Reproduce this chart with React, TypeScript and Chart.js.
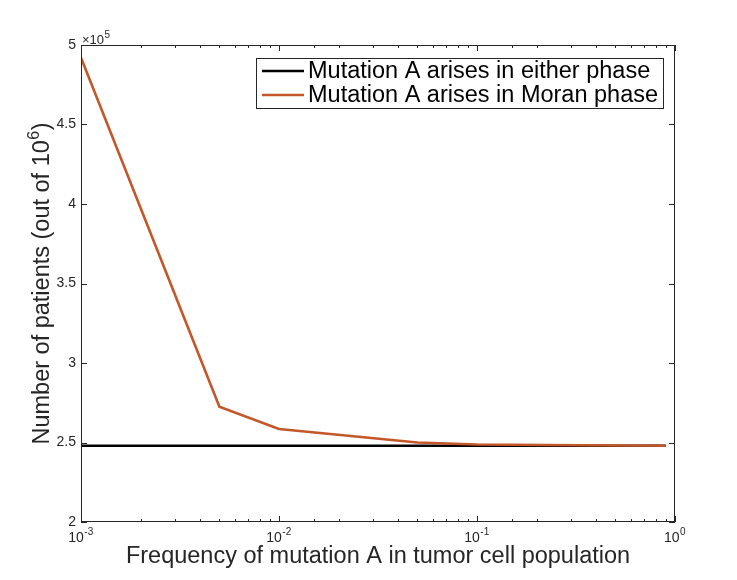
import React, { useEffect, useRef } from "react";
import { Chart, registerables } from "chart.js";

Chart.register(...registerables);

// ---- data ----
const frequencies = [0.001, 0.005, 0.01, 0.05, 0.1, 0.5, 0.9];
const eitherPhase = [2.48e5, 2.48e5, 2.48e5, 2.48e5, 2.48e5, 2.48e5, 2.48e5];
const moranPhase = [4.92e5, 2.725e5, 2.585e5, 2.5e5, 2.487e5, 2.481e5, 2.48e5];
const seriesLabels = ["Mutation A arises in either phase", "Mutation A arises in Moran phase"];
const seriesColors = ["#000000", "#C3572A"];
const yTickValues = [2e5, 2.5e5, 3e5, 3.5e5, 4e5, 4.5e5, 5e5];
const xTitle = "Frequency of mutation A in tumor cell population";
const yTitleBase = "Number of patients (out of 10";
const yTitleExp = "6";
const yTitleEnd = ")";

const FONT = "'Liberation Sans', Arial, Helvetica, sans-serif";
const AXIS = "#262626";

function drawSup(
  ctx: CanvasRenderingContext2D,
  base: string,
  exp: string,
  x: number,
  y: number,
  baseSize: number,
  expSize: number,
  raise: number,
  align: "left" | "center",
  tail = ""
) {
  ctx.font = `${baseSize}px ${FONT}`;
  const wb = ctx.measureText(base).width;
  const wt = tail ? ctx.measureText(tail).width : 0;
  ctx.font = `${expSize}px ${FONT}`;
  const we = ctx.measureText(exp).width + 1;
  const total = wb + we + wt;
  let sx = align === "center" ? x - total / 2 : x;
  ctx.textAlign = "left";
  ctx.textBaseline = "alphabetic";
  ctx.font = `${baseSize}px ${FONT}`;
  ctx.fillText(base, sx, y);
  ctx.font = `${expSize}px ${FONT}`;
  ctx.fillText(exp, sx + wb + 0.5, y - raise);
  if (tail) {
    ctx.font = `${baseSize}px ${FONT}`;
    ctx.fillText(tail, sx + wb + we, y);
  }
}

const decorPlugin = {
  id: "matlabDecor",
  afterDraw(chart: any) {
    const ctx: CanvasRenderingContext2D = chart.ctx;
    const { left, right, top, bottom } = chart.chartArea;
    const xs = chart.scales.x;
    const ys = chart.scales.y;
    ctx.save();
    ctx.strokeStyle = AXIS;
    ctx.lineWidth = 1;
    // box
    ctx.strokeRect(Math.round(left) + 0.5, Math.round(top) + 0.5, Math.round(right - left) - 1, Math.round(bottom - top) - 1);
    // x ticks
    ctx.beginPath();
    const majors: number[] = [];
    for (const t of xs.ticks) {
      const v = t.value;
      if (v < xs.min * 0.999 || v > xs.max * 1.001) continue;
      const lg = Math.log10(v);
      const major = Math.abs(lg - Math.round(lg)) < 1e-6;
      if (major) majors.push(Math.round(lg));
      const len = major ? 6 : 3;
      const px = Math.round(xs.getPixelForValue(v)) + 0.5;
      ctx.moveTo(px, bottom);
      ctx.lineTo(px, bottom - len);
      ctx.moveTo(px, top);
      ctx.lineTo(px, top + len);
    }
    // y ticks
    for (const t of ys.ticks) {
      const py = Math.round(ys.getPixelForValue(t.value)) + 0.5;
      ctx.moveTo(left, py);
      ctx.lineTo(left + 6, py);
      ctx.moveTo(right, py);
      ctx.lineTo(right - 6, py);
    }
    ctx.stroke();

    ctx.fillStyle = AXIS;
    // x tick labels
    for (const e of majors) {
      const px = xs.getPixelForValue(Math.pow(10, e));
      drawSup(ctx, "10", String(e), px, bottom + 20, 14, 10, 7, "center");
    }
    // exponent label
    drawSup(ctx, "\u00d710", "5", left + 1, top - 1, 13, 10, 6, "left");

    // x title
    ctx.font = `23.5px ${FONT}`;
    ctx.textAlign = "center";
    ctx.textBaseline = "alphabetic";
    ctx.fillText(xTitle, (left + right) / 2, 563);

    // y title
    ctx.save();
    ctx.translate(49, (top + bottom) / 2);
    ctx.rotate(-Math.PI / 2);
    drawSup(ctx, yTitleBase, yTitleExp, 0, 0, 23.5, 16, 10, "center", yTitleEnd);
    ctx.restore();

    // legend
    const lx = 256, ly = 58, lw = 407, lh = 50;
    ctx.fillStyle = "#ffffff";
    ctx.fillRect(lx, ly, lw, lh);
    ctx.strokeStyle = AXIS;
    ctx.lineWidth = 1;
    ctx.strokeRect(lx + 0.5, ly + 0.5, lw, lh);
    const rows = [71, 95];
    chart.data.datasets.forEach((ds: any, i: number) => {
      const ry = rows[i];
      ctx.strokeStyle = ds.borderColor;
      ctx.lineWidth = 2.6;
      ctx.beginPath();
      ctx.moveTo(262, ry);
      ctx.lineTo(304, ry);
      ctx.stroke();
      ctx.fillStyle = "#000000";
      ctx.font = `23.5px ${FONT}`;
      ctx.textAlign = "left";
      ctx.textBaseline = "middle";
      ctx.fillText(ds.label, 308, ry + 1);
    });
    ctx.restore();
  },
};

export default function App() {
  const ref = useRef<HTMLCanvasElement | null>(null);
  useEffect(() => {
    if (!ref.current) return;
    const chart = new Chart(ref.current, {
      type: "line",
      data: {
        datasets: [
          {
            label: seriesLabels[0],
            data: frequencies.map((f, i) => ({ x: f, y: eitherPhase[i] })),
            borderColor: seriesColors[0],
            borderWidth: 2.6,
            pointRadius: 0,
            fill: false,
            tension: 0,
            order: 2,
          },
          {
            label: seriesLabels[1],
            data: frequencies.map((f, i) => ({ x: f, y: moranPhase[i] })),
            borderColor: seriesColors[1],
            borderWidth: 2.6,
            pointRadius: 0,
            fill: false,
            tension: 0,
            order: 1,
          },
        ],
      },
      options: {
        responsive: false,
        animation: false,
        devicePixelRatio: 1,
        layout: { padding: { left: 0, top: 45, right: 62, bottom: 0 } },
        plugins: { legend: { display: false }, tooltip: { enabled: false } },
        scales: {
          x: {
            type: "logarithmic",
            min: 0.001,
            max: 1,
            grid: { display: false },
            border: { display: false },
            ticks: { display: false },
            afterFit: (s: any) => {
              s.height = 58;
            },
          },
          y: {
            type: "linear",
            min: 2e5,
            max: 5e5,
            grid: { display: false, drawTicks: false },
            border: { display: false },
            afterBuildTicks: (s: any) => {
              s.ticks = yTickValues.map((v) => ({ value: v }));
            },
            ticks: {
              padding: 5,
              color: AXIS,
              font: { family: FONT, size: 14 },
              callback: (v: any) => String(Number(v) / 1e5),
            },
            afterFit: (s: any) => {
              s.width = 81;
            },
          },
        },
      },
      plugins: [decorPlugin],
    } as any);
    return () => chart.destroy();
  }, []);
  return (
    <div style={{ position: "absolute", left: 0, top: 0, width: 737, height: 580, background: "#fff" }}>
      <canvas ref={ref} width={737} height={580} style={{ display: "block" }} />
    </div>
  );
}
